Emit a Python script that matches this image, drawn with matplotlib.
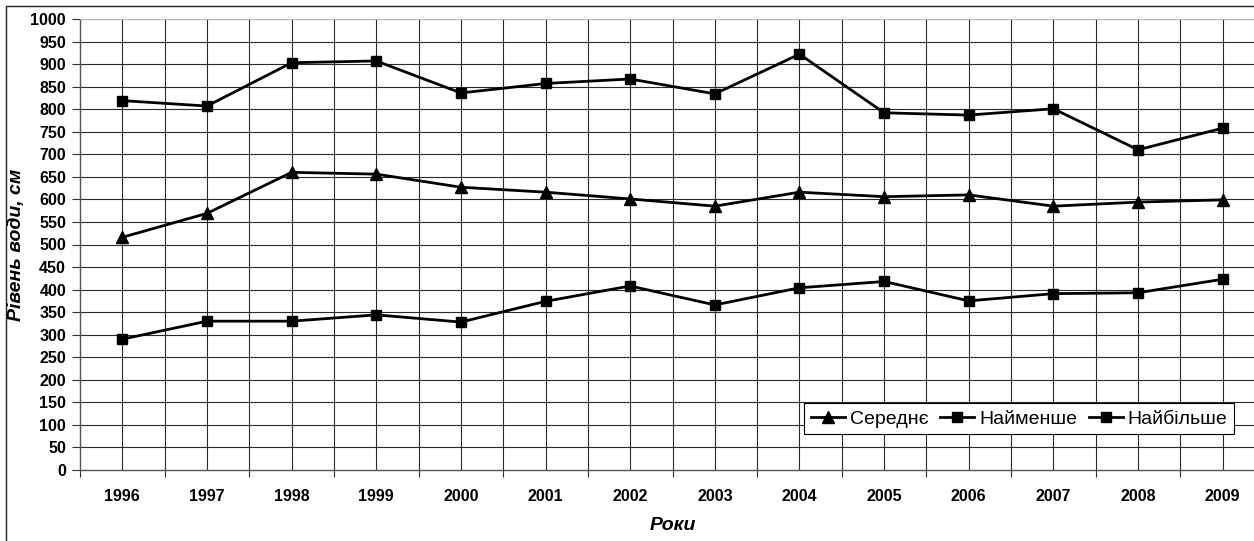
import matplotlib
matplotlib.use("Agg")
import matplotlib.pyplot as plt
from matplotlib.patches import Rectangle
import numpy as np

plt.rcParams['font.family'] = ['Liberation Sans', 'DejaVu Sans']

years = ['1996', '1997', '1998', '1999', '2000', '2001', '2002',
         '2003', '2004', '2005', '2006', '2007', '2008', '2009']
serednie = [516, 569, 660, 656, 627, 616, 601, 585, 616, 606, 610, 585, 594, 599]
naimenshe = [290, 330, 330, 344, 328, 374, 408, 366, 404, 418, 375, 391, 393, 423]
naibilshe = [819, 807, 903, 907, 836, 857, 867, 834, 922, 792, 787, 801, 710, 758]
series_names = ['Середнє', 'Найменше', 'Найбільше']

W, H = 1254, 541
fig = plt.figure(figsize=(W / 100, H / 100), dpi=100)

# outer chart border (cropped on right/bottom in the original)
fig.patches.append(Rectangle((6 / W, -0.1), 2.0, 1 - 6 / H + 0.1,
                             transform=fig.transFigure, fill=False,
                             edgecolor='#222222', linewidth=1.0))

ax_l, ax_r, ax_t, ax_b = 80, 1265, 19, 470
ax = fig.add_axes([ax_l / W, 1 - ax_b / H, (ax_r - ax_l) / W, (ax_b - ax_t) / H])

x = np.arange(len(years))
lw = 2.0
ax.plot(x, serednie, color='black', lw=lw, marker='^', markersize=8, label=series_names[0], zorder=3)
ax.plot(x, naimenshe, color='black', lw=lw, marker='s', markersize=7.5, label=series_names[1], zorder=3)
ax.plot(x, naibilshe, color='black', lw=lw, marker='s', markersize=7.5, label=series_names[2], zorder=3)

ax.set_xlim(-0.5, len(years) - 0.5)
ax.set_ylim(0, 1000)
ax.set_yticks(np.arange(0, 1001, 50))
ax.set_yticklabels([str(v) for v in range(0, 1001, 50)], fontsize=11.5, fontweight='bold')

# major x ticks between categories (tick marks), minor ticks at categories (labels)
ax.set_xticks(np.arange(-0.5, len(years), 1.0))
ax.set_xticklabels([])
ax.set_xticks(x, minor=True)
ax.set_xticklabels(years, minor=True, fontsize=11.5, fontweight='bold')
ax.tick_params(axis='x', which='major', length=5, width=0.8, direction='out', color='#333333')
ax.tick_params(axis='x', which='minor', length=0, pad=14)
ax.tick_params(axis='y', length=6, width=0.8, direction='out', pad=4, color='#333333')

# grid: horizontal every 50, vertical every half category
for v in range(50, 1001, 50):
    ax.axhline(v, color='#2a2a2a', lw=0.8, zorder=1)
for xv in np.arange(0, len(years), 0.5):
    ax.axvline(xv, color='#2a2a2a', lw=0.8, zorder=1)

for s in ['left', 'bottom']:
    ax.spines[s].set_color('#555555')
    ax.spines[s].set_linewidth(1.0)
ax.spines['top'].set_color('#bbbbbb')
ax.spines['right'].set_visible(False)

axw = ax_r - ax_l
axh = ax_b - ax_t
ax.set_ylabel('Рівень води, см', fontsize=14, fontweight='bold', fontstyle='italic')
ax.yaxis.set_label_coords(-(ax_l - 25) / axw, 0.5)
ax.set_xlabel('Роки', fontsize=14, fontweight='bold', fontstyle='italic')
ax.xaxis.set_label_coords(0.5, -(517 - ax_b) / axh)

leg = ax.legend(loc='center', bbox_to_anchor=(1019 / W, 1 - 418.7 / H),
                bbox_transform=fig.transFigure, ncol=3, fontsize=14,
                frameon=True, fancybox=False, framealpha=1, edgecolor='black',
                handlelength=1.75, handletextpad=0.25, columnspacing=0.6,
                borderpad=0.35, borderaxespad=0)
leg.get_frame().set_linewidth(0.8)

fig.savefig('out.png', dpi=100)
